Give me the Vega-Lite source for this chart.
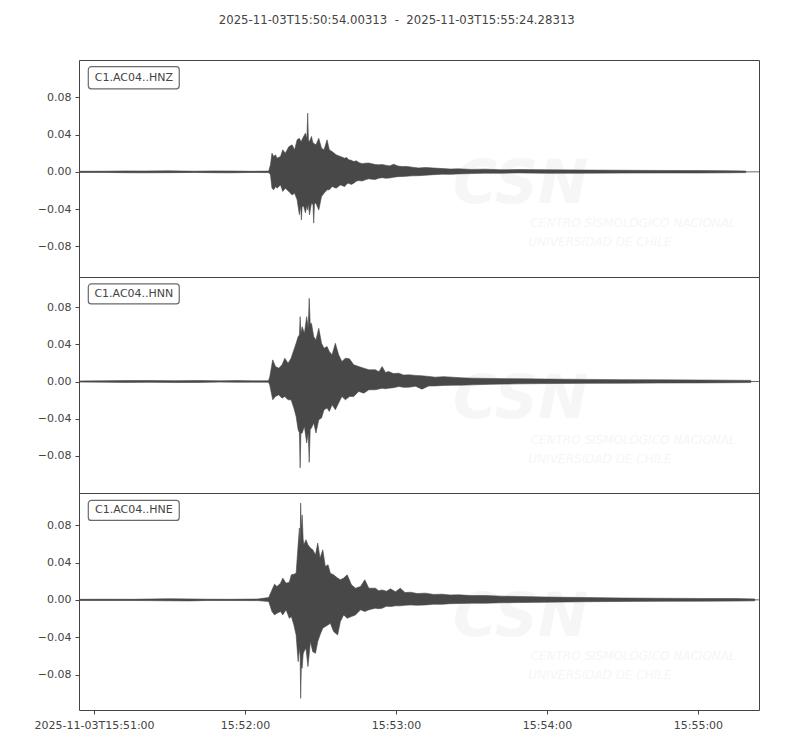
{
  "$schema": "https://vega.github.io/schema/vega-lite/v6.json",
  "background": "white",
  "padding": {"left": 33, "top": 14, "right": 0, "bottom": 0},
  "bounds": "flush",
  "title": {
    "text": "2025-11-03T15:50:54.00313 \u00a0-\u00a0 2025-11-03T15:55:24.28313",
    "font": "DejaVu Sans",
    "fontSize": 11.7,
    "fontWeight": "normal",
    "color": "#444444",
    "anchor": "middle",
    "frame": "bounds",
    "offset": 33
  },
  "config": {
    "view": {"stroke": "#444444", "strokeWidth": 1},
    "axis": {
      "grid": false,
      "domain": false,
      "tickColor": "#444444",
      "tickSize": 4,
      "labelColor": "#444444",
      "labelFont": "DejaVu Sans",
      "labelFontSize": 11,
      "labelPadding": 4
    }
  },
  "datasets": {
    "trace": [
      {"c":"Z","t":"2025-11-03T15:50:54.100Z","lo":-0.0006,"hi":0.0006},
      {"c":"Z","t":"2025-11-03T15:51:05.000Z","lo":-0.0006,"hi":0.0007},
      {"c":"Z","t":"2025-11-03T15:51:12.000Z","lo":-0.0009,"hi":0.001},
      {"c":"Z","t":"2025-11-03T15:51:20.000Z","lo":-0.001,"hi":0.0009},
      {"c":"Z","t":"2025-11-03T15:51:30.000Z","lo":-0.0009,"hi":0.0011},
      {"c":"Z","t":"2025-11-03T15:51:40.000Z","lo":-0.0006,"hi":0.0007},
      {"c":"Z","t":"2025-11-03T15:51:47.000Z","lo":-0.0009,"hi":0.001},
      {"c":"Z","t":"2025-11-03T15:51:55.000Z","lo":-0.001,"hi":0.0009},
      {"c":"Z","t":"2025-11-03T15:52:02.000Z","lo":-0.0006,"hi":0.0006},
      {"c":"Z","t":"2025-11-03T15:52:09.400Z","lo":-0.0008,"hi":0.0008},
      {"c":"Z","t":"2025-11-03T15:52:10.100Z","lo":-0.003,"hi":0.0075},
      {"c":"Z","t":"2025-11-03T15:52:10.700Z","lo":-0.0175,"hi":0.02},
      {"c":"Z","t":"2025-11-03T15:52:11.400Z","lo":-0.0193,"hi":0.0165},
      {"c":"Z","t":"2025-11-03T15:52:12.100Z","lo":-0.0158,"hi":0.0183},
      {"c":"Z","t":"2025-11-03T15:52:12.700Z","lo":-0.0175,"hi":0.0147},
      {"c":"Z","t":"2025-11-03T15:52:14.100Z","lo":-0.014,"hi":0.0165},
      {"c":"Z","t":"2025-11-03T15:52:15.000Z","lo":-0.021,"hi":0.0236},
      {"c":"Z","t":"2025-11-03T15:52:16.000Z","lo":-0.0175,"hi":0.02},
      {"c":"Z","t":"2025-11-03T15:52:17.400Z","lo":-0.021,"hi":0.027},
      {"c":"Z","t":"2025-11-03T15:52:18.700Z","lo":-0.0247,"hi":0.029},
      {"c":"Z","t":"2025-11-03T15:52:19.700Z","lo":-0.0229,"hi":0.0236},
      {"c":"Z","t":"2025-11-03T15:52:20.700Z","lo":-0.03,"hi":0.0344},
      {"c":"Z","t":"2025-11-03T15:52:21.600Z","lo":-0.046,"hi":0.036},
      {"c":"Z","t":"2025-11-03T15:52:22.100Z","lo":-0.036,"hi":0.033},
      {"c":"Z","t":"2025-11-03T15:52:22.400Z","lo":-0.0516,"hi":0.0326},
      {"c":"Z","t":"2025-11-03T15:52:22.700Z","lo":-0.037,"hi":0.035},
      {"c":"Z","t":"2025-11-03T15:52:23.300Z","lo":-0.037,"hi":0.038},
      {"c":"Z","t":"2025-11-03T15:52:24.000Z","lo":-0.044,"hi":0.0415},
      {"c":"Z","t":"2025-11-03T15:52:24.600Z","lo":-0.036,"hi":0.036},
      {"c":"Z","t":"2025-11-03T15:52:24.900Z","lo":-0.041,"hi":0.063},
      {"c":"Z","t":"2025-11-03T15:52:25.200Z","lo":-0.034,"hi":0.034},
      {"c":"Z","t":"2025-11-03T15:52:25.600Z","lo":-0.046,"hi":0.0326},
      {"c":"Z","t":"2025-11-03T15:52:26.400Z","lo":-0.0336,"hi":0.038},
      {"c":"Z","t":"2025-11-03T15:52:27.000Z","lo":-0.035,"hi":0.031},
      {"c":"Z","t":"2025-11-03T15:52:27.300Z","lo":-0.055,"hi":0.0308},
      {"c":"Z","t":"2025-11-03T15:52:27.600Z","lo":-0.034,"hi":0.03},
      {"c":"Z","t":"2025-11-03T15:52:28.200Z","lo":-0.0336,"hi":0.029},
      {"c":"Z","t":"2025-11-03T15:52:29.300Z","lo":-0.041,"hi":0.036},
      {"c":"Z","t":"2025-11-03T15:52:30.400Z","lo":-0.0265,"hi":0.0254},
      {"c":"Z","t":"2025-11-03T15:52:31.400Z","lo":-0.0229,"hi":0.0236},
      {"c":"Z","t":"2025-11-03T15:52:32.600Z","lo":-0.0193,"hi":0.0344},
      {"c":"Z","t":"2025-11-03T15:52:33.500Z","lo":-0.0193,"hi":0.0236},
      {"c":"Z","t":"2025-11-03T15:52:34.600Z","lo":-0.0158,"hi":0.0218},
      {"c":"Z","t":"2025-11-03T15:52:36.200Z","lo":-0.0175,"hi":0.0183},
      {"c":"Z","t":"2025-11-03T15:52:37.900Z","lo":-0.014,"hi":0.0165},
      {"c":"Z","t":"2025-11-03T15:52:39.600Z","lo":-0.0158,"hi":0.0147},
      {"c":"Z","t":"2025-11-03T15:52:40.400Z","lo":-0.013,"hi":0.0155},
      {"c":"Z","t":"2025-11-03T15:52:41.200Z","lo":-0.0122,"hi":0.0129},
      {"c":"Z","t":"2025-11-03T15:52:42.200Z","lo":-0.0135,"hi":0.0125},
      {"c":"Z","t":"2025-11-03T15:52:43.200Z","lo":-0.0122,"hi":0.011},
      {"c":"Z","t":"2025-11-03T15:52:44.200Z","lo":-0.01,"hi":0.0118},
      {"c":"Z","t":"2025-11-03T15:52:45.200Z","lo":-0.0093,"hi":0.01},
      {"c":"Z","t":"2025-11-03T15:52:46.500Z","lo":-0.0098,"hi":0.0088},
      {"c":"Z","t":"2025-11-03T15:52:47.800Z","lo":-0.0086,"hi":0.0093},
      {"c":"Z","t":"2025-11-03T15:52:49.100Z","lo":-0.0075,"hi":0.0095},
      {"c":"Z","t":"2025-11-03T15:52:50.500Z","lo":-0.0079,"hi":0.0086},
      {"c":"Z","t":"2025-11-03T15:52:51.800Z","lo":-0.0082,"hi":0.0078},
      {"c":"Z","t":"2025-11-03T15:52:53.100Z","lo":-0.0068,"hi":0.0075},
      {"c":"Z","t":"2025-11-03T15:52:54.500Z","lo":-0.0062,"hi":0.0078},
      {"c":"Z","t":"2025-11-03T15:52:55.800Z","lo":-0.0068,"hi":0.0072},
      {"c":"Z","t":"2025-11-03T15:52:57.400Z","lo":-0.0066,"hi":0.0064},
      {"c":"Z","t":"2025-11-03T15:52:59.100Z","lo":-0.0057,"hi":0.0082},
      {"c":"Z","t":"2025-11-03T15:53:00.700Z","lo":-0.0052,"hi":0.0063},
      {"c":"Z","t":"2025-11-03T15:53:02.400Z","lo":-0.005,"hi":0.0057},
      {"c":"Z","t":"2025-11-03T15:53:04.400Z","lo":-0.0046,"hi":0.0058},
      {"c":"Z","t":"2025-11-03T15:53:06.400Z","lo":-0.0043,"hi":0.005},
      {"c":"Z","t":"2025-11-03T15:53:09.000Z","lo":-0.0041,"hi":0.0042},
      {"c":"Z","t":"2025-11-03T15:53:11.700Z","lo":-0.0036,"hi":0.0047},
      {"c":"Z","t":"2025-11-03T15:53:15.000Z","lo":-0.003,"hi":0.0041},
      {"c":"Z","t":"2025-11-03T15:53:18.300Z","lo":-0.0025,"hi":0.0036},
      {"c":"Z","t":"2025-11-03T15:53:21.600Z","lo":-0.0027,"hi":0.003},
      {"c":"Z","t":"2025-11-03T15:53:24.900Z","lo":-0.0022,"hi":0.0032},
      {"c":"Z","t":"2025-11-03T15:53:30.000Z","lo":-0.0018,"hi":0.0026},
      {"c":"Z","t":"2025-11-03T15:53:35.500Z","lo":-0.0014,"hi":0.0029},
      {"c":"Z","t":"2025-11-03T15:53:42.000Z","lo":-0.0015,"hi":0.0022},
      {"c":"Z","t":"2025-11-03T15:53:48.800Z","lo":-0.0011,"hi":0.0025},
      {"c":"Z","t":"2025-11-03T15:54:00.000Z","lo":-0.0015,"hi":0.0022},
      {"c":"Z","t":"2025-11-03T15:54:15.000Z","lo":-0.0014,"hi":0.0019},
      {"c":"Z","t":"2025-11-03T15:54:30.000Z","lo":-0.0013,"hi":0.0017},
      {"c":"Z","t":"2025-11-03T15:54:45.000Z","lo":-0.0012,"hi":0.0015},
      {"c":"Z","t":"2025-11-03T15:55:00.000Z","lo":-0.0012,"hi":0.0014},
      {"c":"Z","t":"2025-11-03T15:55:12.000Z","lo":-0.001,"hi":0.0012},
      {"c":"Z","t":"2025-11-03T15:55:19.000Z","lo":-0.0008,"hi":0.0009},

      {"c":"N","t":"2025-11-03T15:50:54.100Z","lo":-0.0006,"hi":0.0006},
      {"c":"N","t":"2025-11-03T15:51:04.000Z","lo":-0.0007,"hi":0.0008},
      {"c":"N","t":"2025-11-03T15:51:12.000Z","lo":-0.001,"hi":0.001},
      {"c":"N","t":"2025-11-03T15:51:22.000Z","lo":-0.0009,"hi":0.0011},
      {"c":"N","t":"2025-11-03T15:51:32.000Z","lo":-0.0011,"hi":0.0009},
      {"c":"N","t":"2025-11-03T15:51:42.000Z","lo":-0.001,"hi":0.0011},
      {"c":"N","t":"2025-11-03T15:51:50.000Z","lo":-0.0006,"hi":0.0007},
      {"c":"N","t":"2025-11-03T15:51:57.000Z","lo":-0.0008,"hi":0.001},
      {"c":"N","t":"2025-11-03T15:52:03.000Z","lo":-0.0007,"hi":0.0007},
      {"c":"N","t":"2025-11-03T15:52:09.300Z","lo":-0.0008,"hi":0.0008},
      {"c":"N","t":"2025-11-03T15:52:09.800Z","lo":-0.0035,"hi":0.0047},
      {"c":"N","t":"2025-11-03T15:52:11.000Z","lo":-0.0197,"hi":0.0233},
      {"c":"N","t":"2025-11-03T15:52:12.100Z","lo":-0.0161,"hi":0.0161},
      {"c":"N","t":"2025-11-03T15:52:13.400Z","lo":-0.0143,"hi":0.0144},
      {"c":"N","t":"2025-11-03T15:52:14.700Z","lo":-0.0179,"hi":0.018},
      {"c":"N","t":"2025-11-03T15:52:15.800Z","lo":-0.0161,"hi":0.0251},
      {"c":"N","t":"2025-11-03T15:52:17.100Z","lo":-0.0197,"hi":0.0197},
      {"c":"N","t":"2025-11-03T15:52:18.300Z","lo":-0.0197,"hi":0.0251},
      {"c":"N","t":"2025-11-03T15:52:19.400Z","lo":-0.0286,"hi":0.034},
      {"c":"N","t":"2025-11-03T15:52:20.300Z","lo":-0.0376,"hi":0.0412},
      {"c":"N","t":"2025-11-03T15:52:21.100Z","lo":-0.0519,"hi":0.0483},
      {"c":"N","t":"2025-11-03T15:52:21.600Z","lo":-0.055,"hi":0.05},
      {"c":"N","t":"2025-11-03T15:52:21.900Z","lo":-0.093,"hi":0.0698},
      {"c":"N","t":"2025-11-03T15:52:22.200Z","lo":-0.056,"hi":0.052},
      {"c":"N","t":"2025-11-03T15:52:22.700Z","lo":-0.0554,"hi":0.059},
      {"c":"N","t":"2025-11-03T15:52:23.600Z","lo":-0.0483,"hi":0.052},
      {"c":"N","t":"2025-11-03T15:52:24.500Z","lo":-0.0662,"hi":0.0698},
      {"c":"N","t":"2025-11-03T15:52:25.100Z","lo":-0.055,"hi":0.058},
      {"c":"N","t":"2025-11-03T15:52:25.500Z","lo":-0.087,"hi":0.0896},
      {"c":"N","t":"2025-11-03T15:52:25.900Z","lo":-0.052,"hi":0.062},
      {"c":"N","t":"2025-11-03T15:52:26.400Z","lo":-0.05,"hi":0.0627},
      {"c":"N","t":"2025-11-03T15:52:27.300Z","lo":-0.0447,"hi":0.0483},
      {"c":"N","t":"2025-11-03T15:52:28.200Z","lo":-0.0554,"hi":0.0448},
      {"c":"N","t":"2025-11-03T15:52:29.300Z","lo":-0.0411,"hi":0.0573},
      {"c":"N","t":"2025-11-03T15:52:30.400Z","lo":-0.0393,"hi":0.0412},
      {"c":"N","t":"2025-11-03T15:52:31.400Z","lo":-0.0304,"hi":0.0358},
      {"c":"N","t":"2025-11-03T15:52:32.600Z","lo":-0.0286,"hi":0.0376},
      {"c":"N","t":"2025-11-03T15:52:33.500Z","lo":-0.0322,"hi":0.0322},
      {"c":"N","t":"2025-11-03T15:52:34.600Z","lo":-0.025,"hi":0.0287},
      {"c":"N","t":"2025-11-03T15:52:35.900Z","lo":-0.0304,"hi":0.0412},
      {"c":"N","t":"2025-11-03T15:52:37.200Z","lo":-0.0232,"hi":0.0287},
      {"c":"N","t":"2025-11-03T15:52:38.500Z","lo":-0.0161,"hi":0.0215},
      {"c":"N","t":"2025-11-03T15:52:39.900Z","lo":-0.0197,"hi":0.0251},
      {"c":"N","t":"2025-11-03T15:52:41.500Z","lo":-0.0161,"hi":0.0244},
      {"c":"N","t":"2025-11-03T15:52:43.200Z","lo":-0.0161,"hi":0.018},
      {"c":"N","t":"2025-11-03T15:52:45.200Z","lo":-0.0107,"hi":0.0161},
      {"c":"N","t":"2025-11-03T15:52:47.200Z","lo":-0.0125,"hi":0.0144},
      {"c":"N","t":"2025-11-03T15:52:49.200Z","lo":-0.0089,"hi":0.0126},
      {"c":"N","t":"2025-11-03T15:52:51.800Z","lo":-0.0089,"hi":0.0126},
      {"c":"N","t":"2025-11-03T15:52:53.200Z","lo":-0.008,"hi":0.0105},
      {"c":"N","t":"2025-11-03T15:52:54.500Z","lo":-0.0072,"hi":0.0161},
      {"c":"N","t":"2025-11-03T15:52:55.800Z","lo":-0.0078,"hi":0.0098},
      {"c":"N","t":"2025-11-03T15:52:57.100Z","lo":-0.0072,"hi":0.0107},
      {"c":"N","t":"2025-11-03T15:52:59.000Z","lo":-0.0066,"hi":0.0085},
      {"c":"N","t":"2025-11-03T15:53:01.100Z","lo":-0.0054,"hi":0.009},
      {"c":"N","t":"2025-11-03T15:53:03.000Z","lo":-0.0063,"hi":0.0069},
      {"c":"N","t":"2025-11-03T15:53:05.100Z","lo":-0.0061,"hi":0.0072},
      {"c":"N","t":"2025-11-03T15:53:07.800Z","lo":-0.0052,"hi":0.0066},
      {"c":"N","t":"2025-11-03T15:53:10.300Z","lo":-0.0082,"hi":0.0061},
      {"c":"N","t":"2025-11-03T15:53:13.000Z","lo":-0.0048,"hi":0.0055},
      {"c":"N","t":"2025-11-03T15:53:15.600Z","lo":-0.0047,"hi":0.0047},
      {"c":"N","t":"2025-11-03T15:53:19.000Z","lo":-0.0042,"hi":0.0052},
      {"c":"N","t":"2025-11-03T15:53:22.300Z","lo":-0.004,"hi":0.0047},
      {"c":"N","t":"2025-11-03T15:53:26.000Z","lo":-0.0039,"hi":0.004},
      {"c":"N","t":"2025-11-03T15:53:30.200Z","lo":-0.0036,"hi":0.0036},
      {"c":"N","t":"2025-11-03T15:53:38.100Z","lo":-0.0029,"hi":0.0033},
      {"c":"N","t":"2025-11-03T15:53:43.000Z","lo":-0.0028,"hi":0.0031},
      {"c":"N","t":"2025-11-03T15:53:48.700Z","lo":-0.0025,"hi":0.003},
      {"c":"N","t":"2025-11-03T15:54:00.000Z","lo":-0.0022,"hi":0.0026},
      {"c":"N","t":"2025-11-03T15:54:15.000Z","lo":-0.002,"hi":0.0023},
      {"c":"N","t":"2025-11-03T15:54:30.000Z","lo":-0.0018,"hi":0.002},
      {"c":"N","t":"2025-11-03T15:54:45.000Z","lo":-0.0016,"hi":0.0018},
      {"c":"N","t":"2025-11-03T15:55:00.000Z","lo":-0.0015,"hi":0.0016},
      {"c":"N","t":"2025-11-03T15:55:12.000Z","lo":-0.0013,"hi":0.0014},
      {"c":"N","t":"2025-11-03T15:55:21.000Z","lo":-0.0011,"hi":0.0012},

      {"c":"E","t":"2025-11-03T15:50:54.100Z","lo":-0.0006,"hi":0.0006},
      {"c":"E","t":"2025-11-03T15:51:05.000Z","lo":-0.0007,"hi":0.0007},
      {"c":"E","t":"2025-11-03T15:51:15.000Z","lo":-0.0006,"hi":0.0006},
      {"c":"E","t":"2025-11-03T15:51:22.000Z","lo":-0.0008,"hi":0.0009},
      {"c":"E","t":"2025-11-03T15:51:30.000Z","lo":-0.001,"hi":0.0012},
      {"c":"E","t":"2025-11-03T15:51:38.000Z","lo":-0.0011,"hi":0.001},
      {"c":"E","t":"2025-11-03T15:51:45.000Z","lo":-0.0006,"hi":0.0007},
      {"c":"E","t":"2025-11-03T15:51:55.000Z","lo":-0.0007,"hi":0.0006},
      {"c":"E","t":"2025-11-03T15:52:05.000Z","lo":-0.0008,"hi":0.0009},
      {"c":"E","t":"2025-11-03T15:52:09.400Z","lo":-0.0018,"hi":0.0025},
      {"c":"E","t":"2025-11-03T15:52:10.700Z","lo":-0.0125,"hi":0.0107},
      {"c":"E","t":"2025-11-03T15:52:11.700Z","lo":-0.0161,"hi":0.0168},
      {"c":"E","t":"2025-11-03T15:52:12.700Z","lo":-0.0143,"hi":0.0143},
      {"c":"E","t":"2025-11-03T15:52:14.100Z","lo":-0.0125,"hi":0.0179},
      {"c":"E","t":"2025-11-03T15:52:15.000Z","lo":-0.0161,"hi":0.0233},
      {"c":"E","t":"2025-11-03T15:52:16.300Z","lo":-0.0107,"hi":0.0179},
      {"c":"E","t":"2025-11-03T15:52:17.600Z","lo":-0.0197,"hi":0.019},
      {"c":"E","t":"2025-11-03T15:52:18.400Z","lo":-0.0179,"hi":0.0268},
      {"c":"E","t":"2025-11-03T15:52:19.400Z","lo":-0.0268,"hi":0.0275},
      {"c":"E","t":"2025-11-03T15:52:20.300Z","lo":-0.0376,"hi":0.0286},
      {"c":"E","t":"2025-11-03T15:52:21.100Z","lo":-0.0662,"hi":0.059},
      {"c":"E","t":"2025-11-03T15:52:21.600Z","lo":-0.0518,"hi":0.077},
      {"c":"E","t":"2025-11-03T15:52:21.900Z","lo":-0.06,"hi":0.06},
      {"c":"E","t":"2025-11-03T15:52:22.100Z","lo":-0.1055,"hi":0.1037},
      {"c":"E","t":"2025-11-03T15:52:22.400Z","lo":-0.07,"hi":0.075},
      {"c":"E","t":"2025-11-03T15:52:22.700Z","lo":-0.0733,"hi":0.091},
      {"c":"E","t":"2025-11-03T15:52:23.100Z","lo":-0.058,"hi":0.065},
      {"c":"E","t":"2025-11-03T15:52:23.400Z","lo":-0.0555,"hi":0.059},
      {"c":"E","t":"2025-11-03T15:52:24.200Z","lo":-0.0518,"hi":0.0644},
      {"c":"E","t":"2025-11-03T15:52:25.000Z","lo":-0.0715,"hi":0.059},
      {"c":"E","t":"2025-11-03T15:52:26.000Z","lo":-0.0447,"hi":0.0555},
      {"c":"E","t":"2025-11-03T15:52:26.900Z","lo":-0.0555,"hi":0.0537},
      {"c":"E","t":"2025-11-03T15:52:28.000Z","lo":-0.0572,"hi":0.0483},
      {"c":"E","t":"2025-11-03T15:52:28.900Z","lo":-0.0447,"hi":0.0608},
      {"c":"E","t":"2025-11-03T15:52:29.800Z","lo":-0.0376,"hi":0.0447},
      {"c":"E","t":"2025-11-03T15:52:30.900Z","lo":-0.0304,"hi":0.0537},
      {"c":"E","t":"2025-11-03T15:52:31.900Z","lo":-0.0286,"hi":0.0358},
      {"c":"E","t":"2025-11-03T15:52:33.000Z","lo":-0.0268,"hi":0.0376},
      {"c":"E","t":"2025-11-03T15:52:33.900Z","lo":-0.025,"hi":0.0286},
      {"c":"E","t":"2025-11-03T15:52:35.200Z","lo":-0.034,"hi":0.0268},
      {"c":"E","t":"2025-11-03T15:52:36.800Z","lo":-0.0376,"hi":0.0233},
      {"c":"E","t":"2025-11-03T15:52:37.900Z","lo":-0.0232,"hi":0.0215},
      {"c":"E","t":"2025-11-03T15:52:39.200Z","lo":-0.0161,"hi":0.0233},
      {"c":"E","t":"2025-11-03T15:52:40.600Z","lo":-0.0197,"hi":0.0268},
      {"c":"E","t":"2025-11-03T15:52:42.300Z","lo":-0.0179,"hi":0.0161},
      {"c":"E","t":"2025-11-03T15:52:43.900Z","lo":-0.0161,"hi":0.0125},
      {"c":"E","t":"2025-11-03T15:52:45.900Z","lo":-0.0107,"hi":0.0143},
      {"c":"E","t":"2025-11-03T15:52:47.600Z","lo":-0.0125,"hi":0.0215},
      {"c":"E","t":"2025-11-03T15:52:49.200Z","lo":-0.0107,"hi":0.0125},
      {"c":"E","t":"2025-11-03T15:52:51.800Z","lo":-0.0089,"hi":0.0125},
      {"c":"E","t":"2025-11-03T15:52:53.100Z","lo":-0.0095,"hi":0.0098},
      {"c":"E","t":"2025-11-03T15:52:54.500Z","lo":-0.0089,"hi":0.0107},
      {"c":"E","t":"2025-11-03T15:52:56.200Z","lo":-0.0068,"hi":0.0092},
      {"c":"E","t":"2025-11-03T15:52:57.800Z","lo":-0.0072,"hi":0.0118},
      {"c":"E","t":"2025-11-03T15:52:59.800Z","lo":-0.0064,"hi":0.0086},
      {"c":"E","t":"2025-11-03T15:53:01.700Z","lo":-0.0064,"hi":0.0125},
      {"c":"E","t":"2025-11-03T15:53:03.600Z","lo":-0.0058,"hi":0.0078},
      {"c":"E","t":"2025-11-03T15:53:05.700Z","lo":-0.0054,"hi":0.0082},
      {"c":"E","t":"2025-11-03T15:53:08.500Z","lo":-0.0058,"hi":0.0068},
      {"c":"E","t":"2025-11-03T15:53:11.700Z","lo":-0.0054,"hi":0.0072},
      {"c":"E","t":"2025-11-03T15:53:15.000Z","lo":-0.0047,"hi":0.0058},
      {"c":"E","t":"2025-11-03T15:53:18.300Z","lo":-0.0047,"hi":0.0061},
      {"c":"E","t":"2025-11-03T15:53:21.500Z","lo":-0.0041,"hi":0.0052},
      {"c":"E","t":"2025-11-03T15:53:24.900Z","lo":-0.0039,"hi":0.0054},
      {"c":"E","t":"2025-11-03T15:53:30.000Z","lo":-0.0036,"hi":0.0046},
      {"c":"E","t":"2025-11-03T15:53:35.500Z","lo":-0.0036,"hi":0.0047},
      {"c":"E","t":"2025-11-03T15:53:42.000Z","lo":-0.0031,"hi":0.004},
      {"c":"E","t":"2025-11-03T15:53:48.700Z","lo":-0.0029,"hi":0.0036},
      {"c":"E","t":"2025-11-03T15:54:00.000Z","lo":-0.0025,"hi":0.003},
      {"c":"E","t":"2025-11-03T15:54:15.000Z","lo":-0.002,"hi":0.0025},
      {"c":"E","t":"2025-11-03T15:54:30.000Z","lo":-0.0017,"hi":0.002},
      {"c":"E","t":"2025-11-03T15:54:45.000Z","lo":-0.0015,"hi":0.0017},
      {"c":"E","t":"2025-11-03T15:55:00.000Z","lo":-0.0014,"hi":0.0015},
      {"c":"E","t":"2025-11-03T15:55:15.000Z","lo":-0.0013,"hi":0.0014},
      {"c":"E","t":"2025-11-03T15:55:22.600Z","lo":-0.001,"hi":0.001}
    ],
    "tags": [
      {"c":"Z","name":"C1.AC04..HNZ","t0":"2025-11-03T15:50:57.700Z","t1":"2025-11-03T15:51:33.850Z","tm":"2025-11-03T15:51:15.800Z","v0":0.0891,"v1":0.1128,"vm":0.1009},
      {"c":"N","name":"C1.AC04..HNN","t0":"2025-11-03T15:50:57.700Z","t1":"2025-11-03T15:51:33.850Z","tm":"2025-11-03T15:51:15.800Z","v0":0.0835,"v1":0.105,"vm":0.0942},
      {"c":"E","name":"C1.AC04..HNE","t0":"2025-11-03T15:50:57.700Z","t1":"2025-11-03T15:51:33.850Z","tm":"2025-11-03T15:51:15.800Z","v0":0.0851,"v1":0.1065,"vm":0.0958}
    ],
    "logo": [
      {"c":"Z","k":"big","txt":"CSN","t":"2025-11-03T15:53:49.500Z","v":-0.014},
      {"c":"Z","k":"line","txt":"CENTRO SISMOLÓGICO NACIONAL","t":"2025-11-03T15:53:53.500Z","v":-0.0548},
      {"c":"Z","k":"line","txt":"UNIVERSIDAD DE CHILE","t":"2025-11-03T15:53:52.700Z","v":-0.075},
      {"c":"N","k":"big","txt":"CSN","t":"2025-11-03T15:53:49.500Z","v":-0.0197},
      {"c":"N","k":"line","txt":"CENTRO SISMOLÓGICO NACIONAL","t":"2025-11-03T15:53:53.500Z","v":-0.0626},
      {"c":"N","k":"line","txt":"UNIVERSIDAD DE CHILE","t":"2025-11-03T15:53:52.700Z","v":-0.083},
      {"c":"E","k":"big","txt":"CSN","t":"2025-11-03T15:53:49.500Z","v":-0.019},
      {"c":"E","k":"line","txt":"CENTRO SISMOLÓGICO NACIONAL","t":"2025-11-03T15:53:53.500Z","v":-0.06},
      {"c":"E","k":"line","txt":"UNIVERSIDAD DE CHILE","t":"2025-11-03T15:53:52.700Z","v":-0.0805}
    ]
  },
  "spacing": 0,
  "resolve": {"scale": {"x": "independent", "y": "independent"}},
  "vconcat": [
    {
      "width": 680,
      "height": 217,
      "layer": [
        {
          "data": {"name": "logo"},
          "transform": [{"filter": "datum.c == 'Z' && datum.k == 'big'"}],
          "mark": {"type": "text", "font": "DejaVu Sans", "fontSize": 60, "fontStyle": "italic", "fontWeight": "bold", "color": "#f6f6f6", "align": "center", "baseline": "middle"},
          "encoding": {
            "x": {"field": "t", "type": "temporal", "axis": null},
            "y": {"field": "v", "type": "quantitative"},
            "text": {"field": "txt"}
          }
        },
        {
          "data": {"name": "logo"},
          "transform": [{"filter": "datum.c == 'Z' && datum.k == 'line'"}],
          "mark": {"type": "text", "font": "DejaVu Sans", "fontSize": 12, "fontStyle": "italic", "color": "#f6f6f6", "align": "left", "baseline": "middle"},
          "encoding": {
            "x": {"field": "t", "type": "temporal", "axis": null},
            "y": {"field": "v", "type": "quantitative"},
            "text": {"field": "txt"}
          }
        },
        {
          "data": {"name": "tags"},
          "transform": [{"filter": "datum.c == 'Z'"}],
          "mark": {"type": "rule", "color": "#666666", "strokeWidth": 1},
          "encoding": {"y": {"datum": 0}}
        },
        {
          "data": {"name": "trace"},
          "transform": [{"filter": "datum.c == 'Z'"}],
          "mark": {"type": "area", "color": "#484848", "stroke": "#484848", "strokeWidth": 0.6, "clip": true},
          "encoding": {
            "x": {"field": "t", "type": "temporal", "axis": null,
                  "scale": {"type": "utc", "domain": [{"year": 2025, "month": 11, "date": 3, "hours": 15, "minutes": 50, "seconds": 54, "milliseconds": 3, "utc": true}, {"year": 2025, "month": 11, "date": 3, "hours": 15, "minutes": 55, "seconds": 24, "milliseconds": 283, "utc": true}]}},
            "y": {"field": "lo", "type": "quantitative",
                  "scale": {"domain": [-0.1128, 0.12], "nice": false, "zero": false},
                  "axis": {"values": [-0.08, -0.04, 0, 0.04, 0.08], "format": ".2f", "title": null}},
            "y2": {"field": "hi"}
          }
        },
        {
          "data": {"name": "tags"},
          "transform": [{"filter": "datum.c == 'Z'"}],
          "mark": {"type": "rect", "fill": "white", "stroke": "#6a6a6a", "strokeWidth": 1.2, "cornerRadius": 3},
          "encoding": {
            "x": {"field": "t0", "type": "temporal", "axis": null},
            "x2": {"field": "t1"},
            "y": {"field": "v0", "type": "quantitative"},
            "y2": {"field": "v1"}
          }
        },
        {
          "data": {"name": "tags"},
          "transform": [{"filter": "datum.c == 'Z'"}],
          "mark": {"type": "text", "font": "DejaVu Sans", "fontSize": 11, "color": "#444444", "align": "center", "baseline": "middle"},
          "encoding": {
            "x": {"field": "tm", "type": "temporal", "axis": null},
            "y": {"field": "vm", "type": "quantitative"},
            "text": {"field": "name"}
          }
        }
      ]
    },
    {
      "width": 680,
      "height": 216,
      "layer": [
        {
          "data": {"name": "logo"},
          "transform": [{"filter": "datum.c == 'N' && datum.k == 'big'"}],
          "mark": {"type": "text", "font": "DejaVu Sans", "fontSize": 60, "fontStyle": "italic", "fontWeight": "bold", "color": "#f6f6f6", "align": "center", "baseline": "middle"},
          "encoding": {
            "x": {"field": "t", "type": "temporal", "axis": null},
            "y": {"field": "v", "type": "quantitative"},
            "text": {"field": "txt"}
          }
        },
        {
          "data": {"name": "logo"},
          "transform": [{"filter": "datum.c == 'N' && datum.k == 'line'"}],
          "mark": {"type": "text", "font": "DejaVu Sans", "fontSize": 12, "fontStyle": "italic", "color": "#f6f6f6", "align": "left", "baseline": "middle"},
          "encoding": {
            "x": {"field": "t", "type": "temporal", "axis": null},
            "y": {"field": "v", "type": "quantitative"},
            "text": {"field": "txt"}
          }
        },
        {
          "data": {"name": "tags"},
          "transform": [{"filter": "datum.c == 'N'"}],
          "mark": {"type": "rule", "color": "#666666", "strokeWidth": 1},
          "encoding": {"y": {"datum": 0}}
        },
        {
          "data": {"name": "trace"},
          "transform": [{"filter": "datum.c == 'N'"}],
          "mark": {"type": "area", "color": "#484848", "stroke": "#484848", "strokeWidth": 0.6, "clip": true},
          "encoding": {
            "x": {"field": "t", "type": "temporal", "axis": null,
                  "scale": {"type": "utc", "domain": [{"year": 2025, "month": 11, "date": 3, "hours": 15, "minutes": 50, "seconds": 54, "milliseconds": 3, "utc": true}, {"year": 2025, "month": 11, "date": 3, "hours": 15, "minutes": 55, "seconds": 24, "milliseconds": 283, "utc": true}]}},
            "y": {"field": "lo", "type": "quantitative",
                  "scale": {"domain": [-0.12, 0.1125], "nice": false, "zero": false},
                  "axis": {"values": [-0.08, -0.04, 0, 0.04, 0.08], "format": ".2f", "title": null}},
            "y2": {"field": "hi"}
          }
        },
        {
          "data": {"name": "tags"},
          "transform": [{"filter": "datum.c == 'N'"}],
          "mark": {"type": "rect", "fill": "white", "stroke": "#6a6a6a", "strokeWidth": 1.2, "cornerRadius": 3},
          "encoding": {
            "x": {"field": "t0", "type": "temporal", "axis": null},
            "x2": {"field": "t1"},
            "y": {"field": "v0", "type": "quantitative"},
            "y2": {"field": "v1"}
          }
        },
        {
          "data": {"name": "tags"},
          "transform": [{"filter": "datum.c == 'N'"}],
          "mark": {"type": "text", "font": "DejaVu Sans", "fontSize": 11, "color": "#444444", "align": "center", "baseline": "middle"},
          "encoding": {
            "x": {"field": "tm", "type": "temporal", "axis": null},
            "y": {"field": "vm", "type": "quantitative"},
            "text": {"field": "name"}
          }
        }
      ]
    },
    {
      "width": 680,
      "height": 217,
      "layer": [
        {
          "data": {"name": "logo"},
          "transform": [{"filter": "datum.c == 'E' && datum.k == 'big'"}],
          "mark": {"type": "text", "font": "DejaVu Sans", "fontSize": 60, "fontStyle": "italic", "fontWeight": "bold", "color": "#f6f6f6", "align": "center", "baseline": "middle"},
          "encoding": {
            "x": {"field": "t", "type": "temporal"},
            "y": {"field": "v", "type": "quantitative"},
            "text": {"field": "txt"}
          }
        },
        {
          "data": {"name": "logo"},
          "transform": [{"filter": "datum.c == 'E' && datum.k == 'line'"}],
          "mark": {"type": "text", "font": "DejaVu Sans", "fontSize": 12, "fontStyle": "italic", "color": "#f6f6f6", "align": "left", "baseline": "middle"},
          "encoding": {
            "x": {"field": "t", "type": "temporal"},
            "y": {"field": "v", "type": "quantitative"},
            "text": {"field": "txt"}
          }
        },
        {
          "data": {"name": "tags"},
          "transform": [{"filter": "datum.c == 'E'"}],
          "mark": {"type": "rule", "color": "#666666", "strokeWidth": 1},
          "encoding": {"y": {"datum": 0}}
        },
        {
          "data": {"name": "trace"},
          "transform": [{"filter": "datum.c == 'E'"}],
          "mark": {"type": "area", "color": "#484848", "stroke": "#484848", "strokeWidth": 0.6, "clip": true},
          "encoding": {
            "x": {"field": "t", "type": "temporal",
                  "scale": {"type": "utc", "domain": [{"year": 2025, "month": 11, "date": 3, "hours": 15, "minutes": 50, "seconds": 54, "milliseconds": 3, "utc": true}, {"year": 2025, "month": 11, "date": 3, "hours": 15, "minutes": 55, "seconds": 24, "milliseconds": 283, "utc": true}]},
                  "axis": {
                    "title": null,
                    "values": [
                      {"year": 2025, "month": 11, "date": 3, "hours": 15, "minutes": 51, "utc": true},
                      {"year": 2025, "month": 11, "date": 3, "hours": 15, "minutes": 52, "utc": true},
                      {"year": 2025, "month": 11, "date": 3, "hours": 15, "minutes": 53, "utc": true},
                      {"year": 2025, "month": 11, "date": 3, "hours": 15, "minutes": 54, "utc": true},
                      {"year": 2025, "month": 11, "date": 3, "hours": 15, "minutes": 55, "utc": true}
                    ],
                    "labelExpr": "datum.index == 0 ? utcFormat(datum.value, '%Y-%m-%dT%H:%M:%S') : utcFormat(datum.value, '%H:%M:%S')",
                    "labelFlush": false,
                    "labelOverlap": false,
                    "labelPadding": 5
                  }},
            "y": {"field": "lo", "type": "quantitative",
                  "scale": {"domain": [-0.118, 0.1145], "nice": false, "zero": false},
                  "axis": {"values": [-0.08, -0.04, 0, 0.04, 0.08], "format": ".2f", "title": null}},
            "y2": {"field": "hi"}
          }
        },
        {
          "data": {"name": "tags"},
          "transform": [{"filter": "datum.c == 'E'"}],
          "mark": {"type": "rect", "fill": "white", "stroke": "#6a6a6a", "strokeWidth": 1.2, "cornerRadius": 3},
          "encoding": {
            "x": {"field": "t0", "type": "temporal"},
            "x2": {"field": "t1"},
            "y": {"field": "v0", "type": "quantitative"},
            "y2": {"field": "v1"}
          }
        },
        {
          "data": {"name": "tags"},
          "transform": [{"filter": "datum.c == 'E'"}],
          "mark": {"type": "text", "font": "DejaVu Sans", "fontSize": 11, "color": "#444444", "align": "center", "baseline": "middle"},
          "encoding": {
            "x": {"field": "tm", "type": "temporal"},
            "y": {"field": "vm", "type": "quantitative"},
            "text": {"field": "name"}
          }
        }
      ]
    }
  ]
}
